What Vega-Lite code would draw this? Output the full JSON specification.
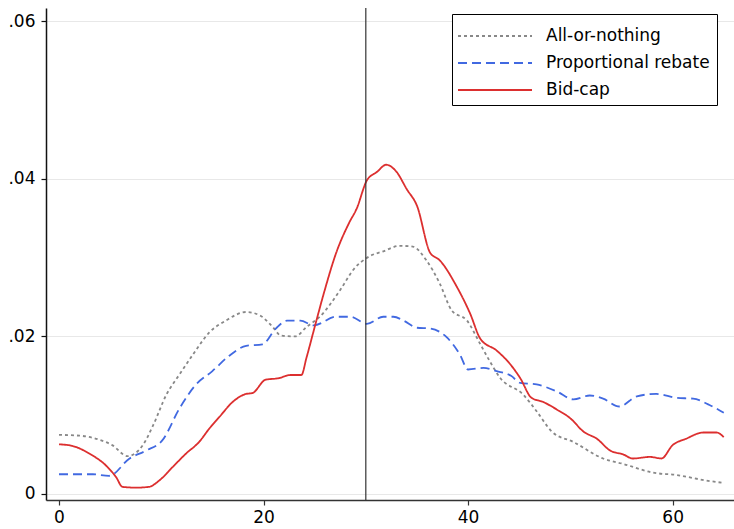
{
  "$schema": "https://vega.github.io/schema/vega-lite/v6.json",
  "autosize": "none",
  "width": 688,
  "height": 492,
  "padding": {"left": 46, "top": 8, "right": 0, "bottom": 29},
  "background": "white",
  "config": {
    "view": {"stroke": null},
    "font": "DejaVu Sans",
    "legend": {
      "orient": "none",
      "legendX": 406,
      "legendY": 6,
      "strokeColor": "black",
      "fillColor": "white",
      "padding": 7,
      "symbolType": "M-2.643,0H2.643",
      "symbolSize": 784,
      "symbolOffset": 21,
      "symbolStrokeWidth": 1.8,
      "labelFont": "DejaVu Sans",
      "labelFontSize": 17,
      "labelColor": "black",
      "labelOffset": 36,
      "labelLimit": 400,
      "rowPadding": 4
    }
  },
  "layer": [
    {
      "data": {
        "values": [
          {"series": "All-or-nothing", "x": 0, "y": 0.0075},
          {"series": "All-or-nothing", "x": 2, "y": 0.0074},
          {"series": "All-or-nothing", "x": 3.9, "y": 0.0069},
          {"series": "All-or-nothing", "x": 5.2, "y": 0.0062},
          {"series": "All-or-nothing", "x": 6.7, "y": 0.0048},
          {"series": "All-or-nothing", "x": 8.2, "y": 0.0062},
          {"series": "All-or-nothing", "x": 9.2, "y": 0.0087},
          {"series": "All-or-nothing", "x": 10.5, "y": 0.0126},
          {"series": "All-or-nothing", "x": 11.8, "y": 0.0152},
          {"series": "All-or-nothing", "x": 13.1, "y": 0.0177},
          {"series": "All-or-nothing", "x": 14.7, "y": 0.0205},
          {"series": "All-or-nothing", "x": 16.3, "y": 0.022},
          {"series": "All-or-nothing", "x": 18.3, "y": 0.0231},
          {"series": "All-or-nothing", "x": 19.6, "y": 0.0227},
          {"series": "All-or-nothing", "x": 20.9, "y": 0.0212},
          {"series": "All-or-nothing", "x": 21.7, "y": 0.0201},
          {"series": "All-or-nothing", "x": 23.1, "y": 0.02},
          {"series": "All-or-nothing", "x": 24.2, "y": 0.0212},
          {"series": "All-or-nothing", "x": 25.5, "y": 0.0225},
          {"series": "All-or-nothing", "x": 27.5, "y": 0.0259},
          {"series": "All-or-nothing", "x": 28.8, "y": 0.0285},
          {"series": "All-or-nothing", "x": 30.4, "y": 0.0302},
          {"series": "All-or-nothing", "x": 31.7, "y": 0.0308},
          {"series": "All-or-nothing", "x": 33.3, "y": 0.0315},
          {"series": "All-or-nothing", "x": 34.6, "y": 0.0314},
          {"series": "All-or-nothing", "x": 35.9, "y": 0.0297},
          {"series": "All-or-nothing", "x": 37.2, "y": 0.0268},
          {"series": "All-or-nothing", "x": 38.4, "y": 0.0233},
          {"series": "All-or-nothing", "x": 39.9, "y": 0.022},
          {"series": "All-or-nothing", "x": 41.2, "y": 0.019},
          {"series": "All-or-nothing", "x": 42.1, "y": 0.0169},
          {"series": "All-or-nothing", "x": 43.1, "y": 0.0148},
          {"series": "All-or-nothing", "x": 45.4, "y": 0.0126},
          {"series": "All-or-nothing", "x": 46.7, "y": 0.0105},
          {"series": "All-or-nothing", "x": 48.2, "y": 0.0079},
          {"series": "All-or-nothing", "x": 50.3, "y": 0.0066},
          {"series": "All-or-nothing", "x": 53.2, "y": 0.0045},
          {"series": "All-or-nothing", "x": 55.2, "y": 0.0038},
          {"series": "All-or-nothing", "x": 58.1, "y": 0.0027},
          {"series": "All-or-nothing", "x": 60.4, "y": 0.0024},
          {"series": "All-or-nothing", "x": 63.3, "y": 0.0017},
          {"series": "All-or-nothing", "x": 65, "y": 0.0014},
          {"series": "Proportional rebate", "x": 0, "y": 0.0025},
          {"series": "Proportional rebate", "x": 3.3, "y": 0.0025},
          {"series": "Proportional rebate", "x": 4.9, "y": 0.0023},
          {"series": "Proportional rebate", "x": 6.9, "y": 0.0045},
          {"series": "Proportional rebate", "x": 8.5, "y": 0.0055},
          {"series": "Proportional rebate", "x": 10.1, "y": 0.0068},
          {"series": "Proportional rebate", "x": 11.8, "y": 0.0109},
          {"series": "Proportional rebate", "x": 13.4, "y": 0.0139},
          {"series": "Proportional rebate", "x": 15.0, "y": 0.0156},
          {"series": "Proportional rebate", "x": 16.6, "y": 0.0175},
          {"series": "Proportional rebate", "x": 18.3, "y": 0.0188},
          {"series": "Proportional rebate", "x": 19.9, "y": 0.019},
          {"series": "Proportional rebate", "x": 21.2, "y": 0.021},
          {"series": "Proportional rebate", "x": 22.3, "y": 0.022},
          {"series": "Proportional rebate", "x": 23.6, "y": 0.022},
          {"series": "Proportional rebate", "x": 24.9, "y": 0.0214},
          {"series": "Proportional rebate", "x": 27.1, "y": 0.0225},
          {"series": "Proportional rebate", "x": 28.5, "y": 0.0225},
          {"series": "Proportional rebate", "x": 30.1, "y": 0.0216},
          {"series": "Proportional rebate", "x": 31.7, "y": 0.0225},
          {"series": "Proportional rebate", "x": 32.7, "y": 0.0225},
          {"series": "Proportional rebate", "x": 33.7, "y": 0.022},
          {"series": "Proportional rebate", "x": 35.0, "y": 0.0211},
          {"series": "Proportional rebate", "x": 36.3, "y": 0.021},
          {"series": "Proportional rebate", "x": 37.9, "y": 0.0199},
          {"series": "Proportional rebate", "x": 39.2, "y": 0.0177},
          {"series": "Proportional rebate", "x": 40.0, "y": 0.0158},
          {"series": "Proportional rebate", "x": 41.5, "y": 0.016},
          {"series": "Proportional rebate", "x": 42.8, "y": 0.0156},
          {"series": "Proportional rebate", "x": 44.2, "y": 0.015},
          {"series": "Proportional rebate", "x": 45.1, "y": 0.0141},
          {"series": "Proportional rebate", "x": 46.7, "y": 0.0139},
          {"series": "Proportional rebate", "x": 48.7, "y": 0.013},
          {"series": "Proportional rebate", "x": 50.3, "y": 0.012},
          {"series": "Proportional rebate", "x": 51.9, "y": 0.0125},
          {"series": "Proportional rebate", "x": 53.2, "y": 0.0121},
          {"series": "Proportional rebate", "x": 54.8, "y": 0.0111},
          {"series": "Proportional rebate", "x": 56.5, "y": 0.0124},
          {"series": "Proportional rebate", "x": 58.4, "y": 0.0127},
          {"series": "Proportional rebate", "x": 60.4, "y": 0.0122},
          {"series": "Proportional rebate", "x": 62.0, "y": 0.0121},
          {"series": "Proportional rebate", "x": 63.6, "y": 0.0113},
          {"series": "Proportional rebate", "x": 65, "y": 0.0103},
          {"series": "Bid-cap", "x": 0, "y": 0.0063},
          {"series": "Bid-cap", "x": 1.3, "y": 0.0061},
          {"series": "Bid-cap", "x": 3.0, "y": 0.0051},
          {"series": "Bid-cap", "x": 4.6, "y": 0.0036},
          {"series": "Bid-cap", "x": 5.6, "y": 0.0021},
          {"series": "Bid-cap", "x": 6.2, "y": 0.0009},
          {"series": "Bid-cap", "x": 7.5, "y": 0.0008},
          {"series": "Bid-cap", "x": 8.8, "y": 0.0009},
          {"series": "Bid-cap", "x": 9.8, "y": 0.0017},
          {"series": "Bid-cap", "x": 11.1, "y": 0.0034},
          {"series": "Bid-cap", "x": 12.4, "y": 0.0051},
          {"series": "Bid-cap", "x": 13.7, "y": 0.0066},
          {"series": "Bid-cap", "x": 14.7, "y": 0.0083},
          {"series": "Bid-cap", "x": 15.7, "y": 0.0098},
          {"series": "Bid-cap", "x": 17.0, "y": 0.0117},
          {"series": "Bid-cap", "x": 18.3, "y": 0.0127},
          {"series": "Bid-cap", "x": 18.9, "y": 0.0128},
          {"series": "Bid-cap", "x": 20.2, "y": 0.0145},
          {"series": "Bid-cap", "x": 21.5, "y": 0.0147},
          {"series": "Bid-cap", "x": 22.6, "y": 0.0151},
          {"series": "Bid-cap", "x": 23.7, "y": 0.0151},
          {"series": "Bid-cap", "x": 24.2, "y": 0.0173},
          {"series": "Bid-cap", "x": 24.9, "y": 0.0207},
          {"series": "Bid-cap", "x": 25.9, "y": 0.0255},
          {"series": "Bid-cap", "x": 27.1, "y": 0.0306},
          {"series": "Bid-cap", "x": 28.4, "y": 0.0345},
          {"series": "Bid-cap", "x": 29.1, "y": 0.0362},
          {"series": "Bid-cap", "x": 30.1, "y": 0.0398},
          {"series": "Bid-cap", "x": 31.1, "y": 0.0409},
          {"series": "Bid-cap", "x": 32.0, "y": 0.0418},
          {"series": "Bid-cap", "x": 33.0, "y": 0.0409},
          {"series": "Bid-cap", "x": 34.0, "y": 0.0387},
          {"series": "Bid-cap", "x": 35.0, "y": 0.0366},
          {"series": "Bid-cap", "x": 36.3, "y": 0.0306},
          {"series": "Bid-cap", "x": 37.2, "y": 0.0297},
          {"series": "Bid-cap", "x": 38.9, "y": 0.0263},
          {"series": "Bid-cap", "x": 40.2, "y": 0.0229},
          {"series": "Bid-cap", "x": 41.2, "y": 0.0197},
          {"series": "Bid-cap", "x": 42.8, "y": 0.0182},
          {"series": "Bid-cap", "x": 44.1, "y": 0.0165},
          {"series": "Bid-cap", "x": 45.1, "y": 0.0147},
          {"series": "Bid-cap", "x": 46.2, "y": 0.0122},
          {"series": "Bid-cap", "x": 47.3, "y": 0.0117},
          {"series": "Bid-cap", "x": 48.7, "y": 0.0107},
          {"series": "Bid-cap", "x": 50.0, "y": 0.0096},
          {"series": "Bid-cap", "x": 51.3, "y": 0.0079},
          {"series": "Bid-cap", "x": 52.6, "y": 0.007},
          {"series": "Bid-cap", "x": 53.9, "y": 0.0055},
          {"series": "Bid-cap", "x": 55.2, "y": 0.005},
          {"series": "Bid-cap", "x": 56.1, "y": 0.0045},
          {"series": "Bid-cap", "x": 57.8, "y": 0.0047},
          {"series": "Bid-cap", "x": 58.9, "y": 0.0045},
          {"series": "Bid-cap", "x": 60.0, "y": 0.0062},
          {"series": "Bid-cap", "x": 61.3, "y": 0.007},
          {"series": "Bid-cap", "x": 63.0, "y": 0.0078},
          {"series": "Bid-cap", "x": 64.3, "y": 0.0078},
          {"series": "Bid-cap", "x": 65, "y": 0.0072}
        ]
      },
      "mark": {"type": "line", "strokeWidth": 1.8, "interpolate": "monotone"},
      "encoding": {
        "x": {
          "field": "x", "type": "quantitative",
          "scale": {"domain": [-1.27, 66], "nice": false, "zero": false},
          "axis": {
            "title": null, "values": [0, 20, 40, 60], "grid": false,
            "domainColor": "#333", "domainWidth": 1.5,
            "tickColor": "#333", "tickSize": 5, "tickWidth": 1.2,
            "labelFont": "DejaVu Sans", "labelFontSize": 17, "labelColor": "black", "labelPadding": 4
          }
        },
        "y": {
          "field": "y", "type": "quantitative",
          "scale": {"domain": [-0.00077, 0.0617], "nice": false, "zero": false},
          "axis": {
            "title": null, "values": [0, 0.02, 0.04, 0.06],
            "labelExpr": "datum.value == 0 ? '0' : replace(format(datum.value, '.2f'), '0.', '.')",
            "grid": true, "gridColor": "#e8e8e8", "gridWidth": 1,
            "domainColor": "#111", "domainWidth": 1.5,
            "tickColor": "#111", "tickSize": 5, "tickWidth": 1.2,
            "labelFont": "DejaVu Sans", "labelFontSize": 17, "labelColor": "black", "labelPadding": 6
          }
        },
        "color": {
          "field": "series", "type": "nominal",
          "scale": {"domain": ["All-or-nothing", "Proportional rebate", "Bid-cap"], "range": ["#888888", "#4169e1", "#dc2f2f"]},
          "legend": {"title": null}
        },
        "strokeDash": {
          "field": "series", "type": "nominal",
          "scale": {"domain": ["All-or-nothing", "Proportional rebate", "Bid-cap"], "range": [[3, 3], [9, 5], [1, 0]]},
          "legend": {"title": null}
        }
      }
    },
    {
      "data": {"values": [{"x": 30}]},
      "mark": {"type": "rule", "color": "#333", "strokeWidth": 1.2},
      "encoding": {"x": {"field": "x", "type": "quantitative"}}
    }
  ]
}
